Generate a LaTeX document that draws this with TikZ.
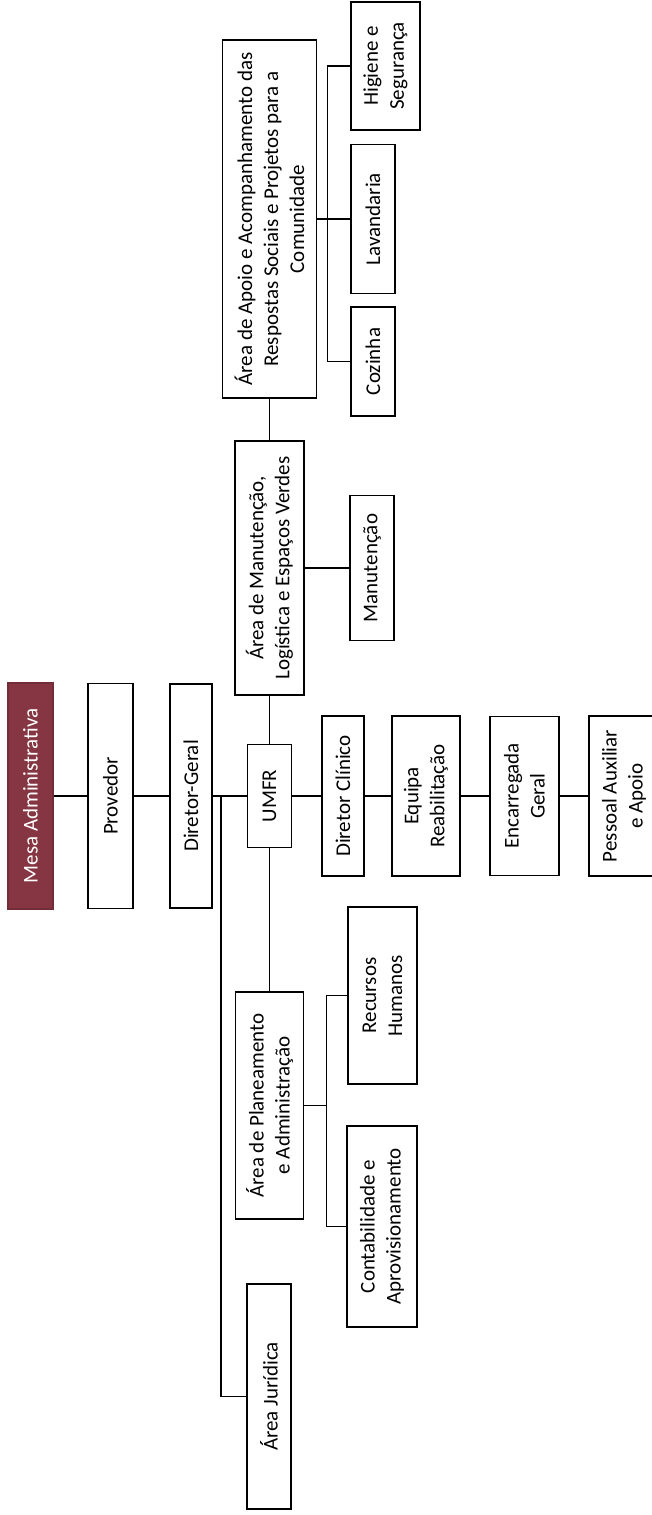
\documentclass[tikz,border=0pt]{standalone}
\usepackage{fontspec}
\setmainfont{Carlito}
\usepackage{tikz}
\usetikzlibrary{calc,positioning}
\definecolor{maroon}{RGB}{133,54,66}
\tikzstyle{unitbox}=[shape=rectangle,draw=black,line width=1.8pt,fill=white,rotate=90,inner sep=0pt,align=center,font=\fontsize{21}{26}\selectfont]
\tikzstyle{headbox}=[unitbox,fill=maroon,draw=maroon!85!black,text=white]
\tikzstyle{orgline}=[draw=black,line width=1.8pt]

\begin{document}
\begin{tikzpicture}[x=1pt,y=-1pt]
\useasboundingbox (0,0) rectangle (652,1515);
\clip (0,0) rectangle (652,1515);

% main line
\node[headbox,minimum width=226pt,minimum height=45pt] (mesa) at (30.5,796) {Mesa Administrativa};
\node[unitbox,minimum width=225pt,minimum height=45pt] (prov) at (110.5,796) {Provedor};
\node[unitbox,minimum width=224pt,minimum height=42pt] (dg) at (191,796) {Diretor-Geral};
\node[unitbox,minimum width=103pt,minimum height=44pt] (umfr) at (269.5,796) {UMFR};
\node[unitbox,minimum width=160pt,minimum height=42pt] (dc) at (343,796) {Diretor Clínico};
\node[unitbox,minimum width=160pt,minimum height=68pt] (eq) at (426,796) {Equipa\\ Reabilitação};
\node[unitbox,minimum width=159pt,minimum height=69pt] (enc) at (524.5,796) {Encarregada\\ Geral};
\node[unitbox,minimum width=160pt,minimum height=70pt] (pes) at (624,796) {Pessoal Auxiliar\\ e Apoio};

% upper branch
\node[unitbox,minimum width=254pt,minimum height=69pt] (aml) at (269.5,568) {Área de Manutenção,\\ Logística e Espaços Verdes};
\node[unitbox,minimum width=145pt,minimum height=44pt] (man) at (372,568) {Manutenção};
\node[unitbox,minimum width=358pt,minimum height=94pt] (apoio) at (269.5,219) {Área de Apoio e Acompanhamento das\\ Respostas Sociais e Projetos para a\\ Comunidade};
\node[unitbox,minimum width=128pt,minimum height=69pt] (hig) at (385.5,66) {Higiene e\\ Segurança};
\node[unitbox,minimum width=149pt,minimum height=44pt] (lav) at (373,219) {Lavandaria};
\node[unitbox,minimum width=109pt,minimum height=44pt] (coz) at (373,361.5) {Cozinha};

% lower branch
\node[unitbox,minimum width=227pt,minimum height=68pt] (plan) at (269.5,1105.5) {Área de Planeamento\\ e Administração};
\node[unitbox,minimum width=177pt,minimum height=69pt] (rh) at (382.5,995.5) {Recursos\\ Humanos};
\node[unitbox,minimum width=201pt,minimum height=70pt] (cont) at (382,1226.5) {Contabilidade e\\ Aprovisionamento};
\node[unitbox,minimum width=225pt,minimum height=44pt] (aj) at (269,1396.5) {Área Jurídica};

\path
(mesa) edge [orgline] (prov)
(prov) edge [orgline] (dg)
(dg) edge [orgline] (umfr)
(umfr) edge [orgline] (dc)
(dc) edge [orgline] (eq)
(eq) edge [orgline] (enc)
(enc) edge [orgline] (pes)

(umfr) edge [orgline] (aml)
(aml) edge [orgline] (apoio)
(aml) edge [orgline] (man)
(apoio) edge [orgline] (lav)
(umfr) edge [orgline] (plan);

\draw[orgline] (hig.north) -| ($(apoio.south)+(10,0)$) |- (coz.north);
\draw[orgline] (plan.south) -- ++(22,0);
\draw[orgline] (rh.north) -| ($(plan.south)+(22,0)$) |- (cont.north);
\draw[orgline] (aj.north) -- ++(-25,0) |- (dg.south);

\end{tikzpicture}
\end{document}
